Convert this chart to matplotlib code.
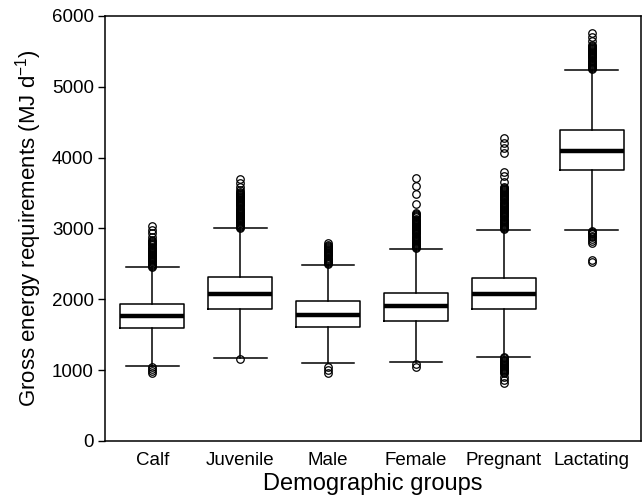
import numpy as np
import matplotlib
matplotlib.use('Agg')
import matplotlib.pyplot as plt

plt.rcParams['font.family'] = ['Liberation Sans', 'DejaVu Sans']
plt.rcParams['mathtext.default'] = 'regular'

# 数据：箱线图统计量
groups = ['Calf', 'Juvenile', 'Male', 'Female', 'Pregnant', 'Lactating']
q1 = [1590, 1860, 1610, 1700, 1860, 3830]
medians = [1760, 2070, 1780, 1900, 2070, 4100]
q3 = [1940, 2320, 1970, 2090, 2300, 4390]
whisker_lo = [1065, 1170, 1100, 1120, 1190, 2980]
whisker_hi = [2450, 3000, 2490, 2710, 2980, 5240]

# 离群点（密集处按图读出的近似位置，点很密所以连成黑条）
fliers_calf = [2460, 2475, 2490, 2505, 2520, 2535, 2550, 2565, 2580, 2595, 2610, 2625,
               2640, 2655, 2670, 2685, 2700, 2715, 2730, 2745, 2760, 2775, 2790, 2805,
               2820, 2840, 2880, 2940, 2980, 3030,
               1045, 1010, 990, 965]
fliers_juvenile = [3010, 3025, 3040, 3055, 3070, 3085, 3100, 3115, 3130, 3145, 3160, 3175,
                   3190, 3205, 3220, 3235, 3250, 3265, 3280, 3295, 3310, 3325, 3340, 3355,
                   3370, 3385, 3400, 3415, 3430, 3445, 3460, 3475, 3490, 3505, 3520, 3540,
                   3590, 3640, 3700,
                   1160]
fliers_male = [2500, 2515, 2530, 2545, 2560, 2575, 2590, 2605, 2620, 2635, 2650, 2665,
               2680, 2695, 2710, 2725, 2740, 2755, 2770, 2790,
               1045, 1000, 965]
fliers_female = [2720, 2735, 2750, 2765, 2780, 2795, 2810, 2825, 2840, 2855, 2870, 2885,
                 2900, 2915, 2930, 2945, 2960, 2975, 2990, 3005, 3020, 3035, 3050, 3065,
                 3080, 3095, 3110, 3125, 3140, 3155, 3170, 3185, 3200, 3215,
                 3340, 3480, 3600, 3710,
                 1090, 1050]
fliers_pregnant = [2990, 3005, 3020, 3035, 3050, 3065, 3080, 3095, 3110, 3125, 3140, 3155,
                   3170, 3185, 3200, 3215, 3230, 3245, 3260, 3275, 3290, 3305, 3320, 3335,
                   3350, 3365, 3380, 3395, 3410, 3425, 3440, 3455, 3470, 3485, 3500, 3515,
                   3530, 3545, 3560, 3575, 3590, 3660, 3740, 3800,
                   4060, 4130, 4200, 4270,
                   1180, 1165, 1150, 1135, 1120, 1105, 1090, 1075, 1060, 1045, 1030, 1015,
                   1000, 985, 970, 955, 900, 860, 820]
fliers_lactating = [5250, 5265, 5280, 5295, 5310, 5325, 5340, 5355, 5370, 5385, 5400, 5415,
                    5430, 5445, 5460, 5475, 5490, 5505, 5520, 5535, 5550, 5565, 5580, 5595,
                    5640, 5700, 5760,
                    2960, 2945, 2930, 2915, 2900, 2880, 2850, 2820, 2790, 2560, 2520]
fliers = [fliers_calf, fliers_juvenile, fliers_male, fliers_female, fliers_pregnant, fliers_lactating]

stats = []
for i, g in enumerate(groups):
    stats.append(dict(label=g, q1=q1[i], med=medians[i], q3=q3[i],
                      whislo=whisker_lo[i], whishi=whisker_hi[i], fliers=fliers[i]))

fig = plt.figure(figsize=(6.44, 4.98), dpi=100)
ax = fig.add_axes([0.163, 0.1145, 0.832, 0.8535])

ax.bxp(stats, positions=np.arange(1, 7), widths=0.73, capwidths=0.6,
       boxprops=dict(color='black', linewidth=1.1),
       whiskerprops=dict(color='black', linewidth=1.1),
       capprops=dict(color='black', linewidth=1.1),
       medianprops=dict(color='black', linewidth=3.2, solid_capstyle='butt'),
       flierprops=dict(marker='o', markerfacecolor='none', markeredgecolor='black',
                       markersize=5.4, markeredgewidth=0.9, linestyle='none'))

ax.set_xlim(0.46, 6.56)
ax.set_ylim(0, 6000)
ax.set_yticks([0, 1000, 2000, 3000, 4000, 5000, 6000])
ax.set_xticks(np.arange(1, 7))
ax.set_xticklabels(groups)
ax.tick_params(axis='x', length=0, labelsize=13.5, pad=8)
ax.tick_params(axis='y', length=5, width=1, labelsize=13.5, pad=3)
for s in ax.spines.values():
    s.set_linewidth(1.1)

ax.set_xlabel('Demographic groups', fontsize=17, labelpad=3)
ax.set_ylabel('Gross energy requirements (MJ d$^{-1}$)', fontsize=16, labelpad=6)

plt.savefig('out.png', dpi=100)
